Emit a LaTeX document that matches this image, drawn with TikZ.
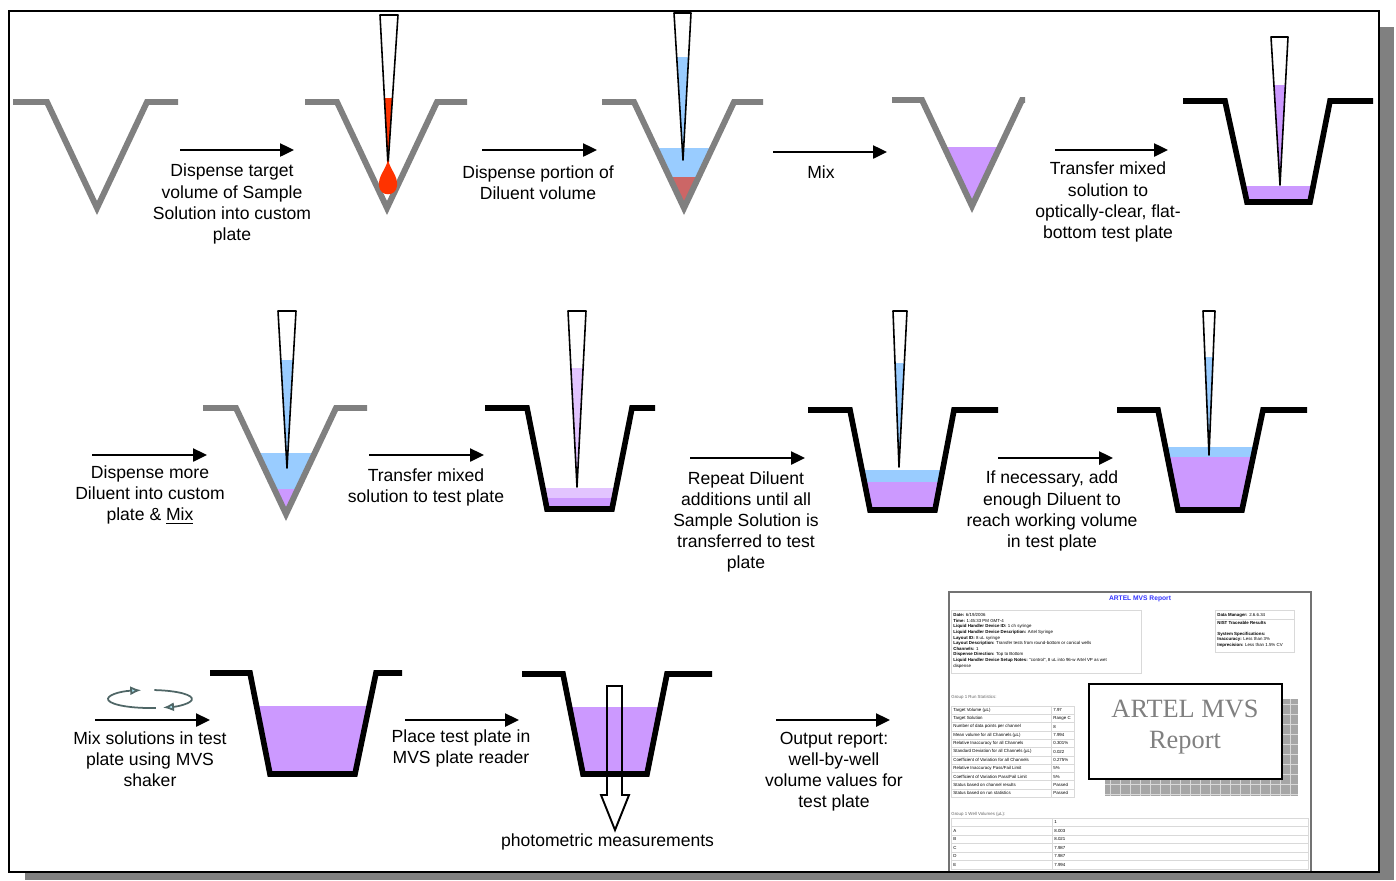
\documentclass[tikz,border=0pt]{standalone}
\usepackage{fontspec}
\setmainfont{Liberation Sans}
\newfontfamily\reportserif{Liberation Serif}
\usepackage{tikz}
\usepackage{xcolor}
\usetikzlibrary{arrows.meta}
\definecolor{Well Gray}{HTML}{808080}
\definecolor{Diluent Blue}{HTML}{99CCFF}
\definecolor{Mix Purple}{HTML}{CC99FF}
\definecolor{Pale Purple}{HTML}{E2C4FF}
\definecolor{Sample Red}{HTML}{FF3300}
\definecolor{Rose}{HTML}{CC6666}
\definecolor{Shaker Gray}{HTML}{4F6666}
\definecolor{Shaker Blue}{HTML}{A8E0EC}
\definecolor{Title Blue}{HTML}{3333FF}

\tikzset{
  steparrow/.style={line width=1.4pt, -{Triangle[length=2.8mm,width=2.6mm]}},
  steptext/.style={align=center, font=\fontsize{10}{12}\selectfont, inner sep=0pt},
  vwell/.style={draw=Well Gray, line width=3.4pt},
  flatwell/.style={draw=black, line width=3.2pt},
  pipette/.style={draw=black, line width=0.9pt, line join=round},
  cell/.style={draw=black!15, line width=0.3pt},
  reporttext/.style={font=\fontsize{2.5}{3.2}\selectfont, inner sep=0pt, align=left},
}

\begin{document}
\begin{tikzpicture}[x=0.02cm, y=-0.02cm]
    \useasboundingbox (0,0) rectangle (1396,880);
    % Page with drop shadow
    \fill[Well Gray] (25,27) rectangle (1394,880);
    \fill[white] (9,11) rectangle (1379,872);

    % Liquid layers: top left, floor left, floor right, top right, rim, floor, level, colour
    \foreach \xa/\xb/\xc/\xd/\ry/\fy/\lev/\col in {
        634/684/684/734/102/208/148/Diluent Blue,
        634/684/684/734/102/208/177/Rose,
        922/972/972/1022/100/206/147/Mix Purple,
        1225/1247/1310/1330/101/202/186/Mix Purple,
        236/286/286/336/408/514/453/Diluent Blue,
        236/286/286/336/408/514/489/Mix Purple,
        527/547/612/632/408/509/488/Pale Purple,
        527/547/612/632/408/509/498/Mix Purple,
        850/870/935/954/410/510/470/Diluent Blue,
        850/870/935/954/410/510/482/Mix Purple,
        1158/1178/1242/1263/410/510/447/Diluent Blue,
        1158/1178/1242/1263/410/510/457/Mix Purple,
        250/270/355/376/673/774/706/Mix Purple,
        563/583/647/667/674/774/707/Mix Purple%
    } {
        \begin{scope}
            \clip (\xa,\ry) -- (\xb,\fy) -- (\xc,\fy) -- (\xd,\ry) -- cycle;
            \fill[\col] (\xa,\lev) rectangle (\xd,\fy);
        \end{scope}
    }

    % Conical wells of the custom plate
    \foreach \ax/\ay/\ry/\lx/\rx in {
        97/208/102/13/178,
        387/208/102/305/467,
        684/208/102/602/763,
        972/206/100/892/1025,
        286/514/408/203/367
    } {
        \draw[vwell] (\lx,\ry) -- (\ax-50,\ry) -- (\ax,\ay) -- (\ax+50,\ry) -- (\rx,\ry);
    }

    % Flat-bottom wells of the test plate
    \foreach \lx/\ry/\xa/\xb/\fy/\xc/\xd/\rx in {
        1183/101/1225/1247/202/1310/1330/1373,
        485/408/527/547/509/612/632/655,
        808/410/850/870/510/935/954/998,
        1117/410/1158/1178/510/1242/1263/1307,
        210/673/250/270/774/355/376/402,
        522/674/563/583/774/647/667/712
    } {
        \draw[flatwell] (\lx,\ry) -- (\xa,\ry) -- (\xb,\fy) -- (\xc,\fy) -- (\xd,\ry) -- (\rx,\ry);
    }

    % Pipette tips with their contents
    \foreach \pa/\pb/\py/\px/\pt/\lev/\col in {
        380/398/15/388/165/98/Sample Red,
        674/691/13/683/160/57/Diluent Blue,
        1271/1288/37/1280/185/85/Mix Purple,
        278/296/311/287/468/360/Diluent Blue,
        568/586/311/577/487/368/Pale Purple,
        893/907/311/899/467/363/Diluent Blue,
        1203/1215/311/1209/455/357/Diluent Blue%
    } {
        \begin{scope}
            \clip (\pa,\py) -- (\pb,\py) -- (\px,\pt) -- cycle;
            \fill[\col] (\pa,\lev) rectangle (\pb,\pt);
        \end{scope}
        \draw[pipette] (\pa,\py) -- (\pb,\py) -- (\px,\pt) -- cycle;
    }

    % Sample drop leaving the tip
    \fill[Sample Red] (388,160) .. controls (391,171) and (398,176) .. (397,186)
        .. controls (396,197) and (380,197) .. (379,186)
        .. controls (378,176) and (385,171) .. (388,160);

    % Light path through the plate reader
    \draw[line width=1.1pt, line join=miter] (607,686) -- (622,686) -- (622,795) -- (629,795)
        -- (615,830) -- (601,795) -- (607,795) -- cycle;

    % Shaker symbol
    \draw[Shaker Gray, line width=1pt, -{Latex[length=2.2mm,width=1.8mm,fill=Shaker Blue]}]
        (150,699) ++(82:42 and 9) arc[start angle=82, end angle=258, x radius=42, y radius=9];
    \draw[Shaker Gray, line width=1pt, -{Latex[length=2.2mm,width=1.8mm,fill=Shaker Blue]}]
        (150,699) ++(276:42 and 9) arc[start angle=276, end angle=432, x radius=42, y radius=9];

    % Step arrows
    \foreach \sx/\sy/\ex [count=\i] in {
        180/150/294, 482/150/597, 773/152/887, 1055/150/1168,
        92/455/207, 369/455/484, 690/458/805, 998/458/1113,
        95/720/210, 405/720/519, 776/720/890
    } {
        \coordinate (from\i) at (\sx,\sy);
        \coordinate (to\i) at (\ex,\sy);
        \draw[steparrow] (from\i) -- (to\i);
    }

    % Step descriptions
    \foreach \tx/\ty/\txt [count=\i] in {
        232/204/{Dispense target\\volume of Sample\\Solution into custom\\plate},
        538/183/{Dispense portion of\\Diluent volume},
        821/172/{Mix},
        1108/202/{Transfer mixed\\solution to\\optically-clear, flat-\\bottom test plate},
        150/495/{Dispense more\\Diluent into custom\\plate \& \underline{Mix}},
        426/487/{Transfer mixed\\solution to test plate},
        746/522/{Repeat Diluent\\additions until all\\Sample Solution is\\transferred to test\\plate},
        1052/511/{If necessary, add\\enough Diluent to\\reach working volume\\in test plate},
        150/759/{Mix solutions in test\\plate using MVS\\shaker},
        461/748/{Place test plate in\\MVS plate reader},
        834/772/{Output report:\\well-by-well\\volume values for\\test plate},
        610/842/{photometric measurements}
    } {
        \node[steptext] (label\i) at (\tx,\ty) {\txt};
    }

    % Report page
    \draw[black!55, line width=0.6pt, fill=white] (949,592) rectangle (1311,872);
    \node[font=\fontsize{3.8}{4}\selectfont\bfseries, text=Title Blue, inner sep=0pt] (rtitle) at (1140,599) {ARTEL MVS Report};
    \draw[cell] (951,610) rectangle (1141,673);
    \node[reporttext, anchor=north west] (rsetup) at (953,613) {%
        \textbf{Date:} 6/19/2006\\
        \textbf{Time:} 1:45:33 PM GMT-4\\
        \textbf{Liquid Handler Device ID:} 1 ch syringe\\
        \textbf{Liquid Handler Device Description:} Artel Syringe\\
        \textbf{Layout ID:} 8 uL syringe\\
        \textbf{Layout Description:} Transfer tests from round-bottom or conical wells\\
        \textbf{Channels:} 1\\
        \textbf{Dispense Direction:} Top to Bottom\\
        \textbf{Liquid Handler Device Setup Notes:} "control", 8 uL into 96-w Artel VP as wet\\
        dispense};
    \draw[cell] (1215,610) rectangle (1294,652);
    \draw[cell] (1215,619) -- (1294,619);
    \node[reporttext, anchor=north west] (rsystem) at (1217,613) {%
        \textbf{Data Manager:} 2.6.6.34\\[1.2pt]
        \textbf{NIST Traceable Results}\\[3pt]
        \textbf{System Specifications:}\\
        \textbf{Inaccuracy:} Less than 3\%\\
        \textbf{Imprecision:} Less than 1.5\% CV};
    \node[reporttext, anchor=west, text=black!60] (rstats) at (951,697) {Group 1 Run Statistics:};
    \foreach \name/\val [count=\i from 0] in {
        Target Volume (µL)/7.97,
        Target Solution/Range C,
        Number of data points per channel/8,
        Mean volume for all Channels (µL)/7.994,
        Relative Inaccuracy for all Channels/0.301\%,
        Standard Deviation for all Channels (µL)/0.022,
        Coefficient of Variation for all Channels/0.275\%,
        Relative Inaccuracy Pass\slash{}Fail Limit/5\%,
        Coefficient of Variation Pass\slash{}Fail Limit/5\%,
        Status based on channel results/Passed,
        Status based on run statistics/Passed%
    } {
        \draw[cell] (951,706+8.3*\i) rectangle (1051,714.3+8.3*\i);
        \draw[cell] (1051,706+8.3*\i) rectangle (1074,714.3+8.3*\i);
        \node[reporttext, anchor=west] (sname\i) at (953,710.2+8.3*\i) {\name};
        \node[reporttext, anchor=west] (sval\i) at (1053,710.2+8.3*\i) {\val};
    }
    \node[reporttext, anchor=west, text=black!60] (rwells) at (951,814) {Group 1 Well Volumes (µL):};
    \foreach \row/\vol [count=\i from 0] in {/1, A/8.003, B/8.021, C/7.987, D/7.987, E/7.994} {
        \draw[cell] (951,818+8.5*\i) rectangle (1052,826.5+8.5*\i);
        \draw[cell] (1052,818+8.5*\i) rectangle (1308,826.5+8.5*\i);
        \node[reporttext, anchor=west] (wrow\i) at (953,822.2+8.5*\i) {\row};
        \node[reporttext, anchor=west] (wvol\i) at (1054,822.2+8.5*\i) {\vol};
    }

    % Report label with hatched shadow
    \fill[gray!70] (1105,699) rectangle (1298,796);
    \foreach \gx in {1110,1120,...,1290} \draw[gray!30, line width=0.3pt] (\gx,699) -- (\gx,796);
    \foreach \gy in {704,714,...,794} \draw[gray!30, line width=0.3pt] (1105,\gy) -- (1298,\gy);
    \draw[line width=1.2pt, fill=white] (1089,684) rectangle (1282,779);
    \node[font=\reportserif\fontsize{15}{17.6}\selectfont, text=Well Gray, align=center] (rlabel) at (1185,727) {ARTEL MVS\\Report};

    % Page border
    \draw[line width=1.1pt] (9,11) rectangle (1379,872);
\end{tikzpicture}
\end{document}
